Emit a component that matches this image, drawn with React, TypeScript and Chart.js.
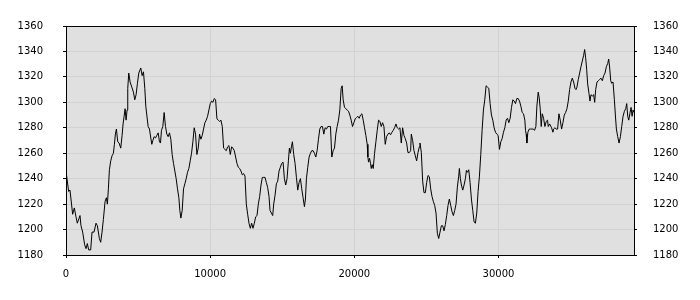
import { useEffect, useRef } from 'react';
import { Chart, registerables } from 'chart.js';

Chart.register(...registerables);

// Sample positions (x) and values (y)
const sampleX = [
  0, 183, 276, 461, 577, 693, 785, 971, 1040, 1156, 1295, 1388, 1480, 1573, 1712, 1805, 1944, 2083, 2176, 2315,
  2407, 2500, 2593, 2709, 2801, 2871, 2940, 3010, 3102, 3195, 3288, 3357, 3427, 3496, 3589, 3682, 3797, 3890, 3960, 4029,
  4099, 4168, 4238, 4284, 4353, 4446, 4562, 4678, 4770, 4863, 4956, 5049, 5188, 5280, 5373, 5466, 5535, 5605, 5697, 5790,
  5883, 5952, 6022, 6114, 6207, 6300, 6393, 6485, 6555,
  6623, 6716, 6808, 6901, 6994, 7086, 7179, 7272, 7364, 7457, 7550, 7642, 7735, 7828, 7897, 7967, 8060, 8152, 8245, 8338,
  8430, 8523, 8616, 8708, 8801, 8894, 8986, 9079, 9172, 9264, 9357, 9450, 9542, 9635, 9728, 9820, 9913, 10006, 10099, 10191,
  10284, 10377, 10469, 10562, 10655, 10747, 10840, 10933, 11025, 11118, 11211, 11303, 11396, 11489, 11581, 11674, 11767, 11859, 11952, 12045,
  12137, 12230, 12323, 12415, 12508, 12601, 12693, 12786, 12879, 12971, 13064,
  13156, 13249, 13341, 13434, 13527, 13619, 13712, 13805, 13897, 13990, 14083, 14152, 14245, 14338, 14407, 14500, 14593, 14685, 14778, 14871,
  14963, 15056, 15149, 15241, 15334, 15427, 15496, 15566, 15635, 15705, 15797, 15890, 15983, 16075, 16168, 16261, 16353, 16446, 16539, 16608,
  16678, 16770, 16863, 16956, 17048, 17141, 17234, 17326, 17419, 17512, 17604, 17697, 17790, 17882, 17975, 18068, 18160, 18253, 18346, 18438,
  18531, 18624, 18716, 18809, 18902, 18994, 19087, 19157, 19226, 19319, 19412, 19504, 19597,
  19689, 19782, 19874, 19967, 20060, 20152, 20245, 20338, 20430, 20523, 20616, 20708, 20801, 20894, 20940, 20987, 21056, 21126, 21172, 21242,
  21311, 21404, 21496, 21589, 21682, 21774, 21867, 21960, 22052, 22145, 22238, 22330, 22423, 22516, 22608, 22701, 22794, 22886, 22979, 23072,
  23164, 23257, 23350, 23442, 23535, 23628, 23720, 23813, 23906, 23952, 24045, 24138, 24230, 24323, 24416, 24508, 24555, 24648, 24740, 24833,
  24926, 25018, 25111, 25204, 25296, 25389, 25482, 25574, 25667, 25760, 25852, 25945, 26038, 26130,
  26222, 26315, 26407, 26500, 26593, 26685, 26778, 26871, 26963, 27056, 27149, 27241, 27288, 27357, 27427, 27520, 27612, 27705, 27774, 27844,
  27937, 28029, 28122, 28215, 28307, 28400, 28493, 28585, 28678, 28771, 28863, 28956, 29049, 29141, 29234, 29327, 29419, 29512, 29605, 29697,
  29790, 29883, 29975, 30068, 30161, 30253, 30346, 30439, 30531, 30624, 30717, 30809, 30902, 30995, 31087, 31180, 31273, 31365, 31458, 31551,
  31643, 31736, 31829, 31875, 31922, 31968, 32038, 32130, 32223, 32316, 32408, 32501, 32594,
  32663, 32756, 32826, 32895, 32965, 33034, 33127, 33219, 33312, 33405, 33451, 33544, 33683, 33776, 33822, 33915, 34007, 34100, 34193, 34285,
  34378, 34471, 34563, 34656, 34749, 34841, 34934, 35027, 35119, 35212, 35305, 35374, 35444, 35536, 35629, 35722, 35814, 35907, 35977, 36046,
  36116, 36185, 36278, 36347, 36417, 36510, 36602, 36672, 36741, 36834, 36927, 37019, 37112, 37205, 37297, 37390, 37483, 37575, 37645, 37714,
  37784, 37853, 37946, 38039, 38108, 38178, 38270, 38363, 38456, 38548, 38641, 38734, 38826, 38896, 38965, 39035, 39128, 39197, 39267, 39336,
  39400,
];

const priceY = [
  1246, 1230, 1231, 1212, 1217, 1210, 1205, 1211, 1203, 1198, 1188, 1185, 1189, 1184, 1184, 1198, 1198, 1205, 1203, 1193,
  1190, 1198, 1208, 1222, 1225, 1220, 1232, 1247, 1254, 1258, 1260, 1267, 1275, 1279, 1269, 1268, 1264, 1274, 1283, 1289,
  1295, 1286, 1294, 1311, 1323, 1316, 1312, 1308, 1302, 1306, 1315, 1323, 1327, 1321, 1324, 1311, 1297, 1290, 1281, 1279,
  1272, 1267, 1270, 1273, 1272, 1274, 1276, 1269, 1268,
  1278, 1281, 1292, 1281, 1275, 1273, 1276, 1271, 1259, 1252, 1246, 1240, 1232, 1225, 1215, 1209, 1215, 1232, 1236, 1240,
  1245, 1248, 1254, 1260, 1269, 1280, 1275, 1259, 1264, 1275, 1271, 1274, 1279, 1284, 1286, 1289, 1294, 1299, 1301, 1300,
  1303, 1302, 1287, 1286, 1285, 1286, 1281, 1264, 1263, 1262, 1265, 1266, 1259, 1265, 1264, 1262, 1257, 1252, 1249, 1248,
  1246, 1243, 1244, 1242, 1220, 1212, 1205, 1201, 1205, 1201, 1205,
  1210, 1211, 1220, 1226, 1235, 1241, 1241, 1241, 1237, 1233, 1226, 1215, 1213, 1211, 1220, 1227, 1236, 1238, 1246, 1249,
  1252, 1253, 1240, 1235, 1240, 1254, 1264, 1260, 1265, 1269, 1259, 1252, 1241, 1231, 1237, 1240, 1232, 1225, 1218, 1224,
  1240, 1249, 1257, 1260, 1262, 1262, 1260, 1257, 1262, 1271, 1279, 1281, 1281, 1275, 1280, 1279, 1281, 1281, 1281, 1257,
  1262, 1264, 1275, 1281, 1286, 1294, 1311, 1313, 1302, 1296, 1295, 1294, 1293,
  1290, 1286, 1281, 1284, 1287, 1288, 1289, 1287.5, 1290, 1291, 1286, 1280, 1274, 1267, 1257, 1253, 1256, 1252, 1248, 1251,
  1248, 1260, 1269, 1278, 1286, 1285, 1281, 1284, 1281, 1267, 1273, 1275, 1276, 1274.5, 1276.5, 1278, 1280, 1283, 1280, 1279,
  1280, 1268, 1280, 1274, 1271.5, 1268, 1260.5, 1260.5, 1262, 1275, 1270, 1262, 1258, 1254, 1260.5, 1265, 1268, 1260.5, 1238, 1229,
  1229, 1237, 1242.5, 1241.5, 1232, 1226, 1222, 1219, 1213, 1197, 1193, 1198, 1203, 1203,
  1199, 1204, 1211, 1219, 1224, 1219, 1214, 1211, 1215, 1220, 1233.5, 1242, 1248, 1240, 1235, 1231, 1235, 1240, 1246.5, 1245,
  1247, 1237, 1224, 1215, 1206, 1205, 1213, 1230, 1242, 1259, 1278, 1294, 1302, 1313, 1312, 1311, 1299, 1290, 1286, 1280,
  1276.5, 1275, 1274, 1263, 1269, 1271.5, 1276.5, 1280, 1286, 1287.5, 1284, 1287.5, 1296, 1302, 1301, 1299, 1303, 1303, 1301, 1297,
  1292, 1291, 1286, 1278, 1275, 1268, 1276.5, 1279, 1279, 1279, 1279, 1278, 1281,
  1297, 1308, 1303.5, 1295, 1281, 1291, 1287.5, 1281, 1285, 1286, 1281, 1283, 1280, 1276.5, 1279, 1280, 1279, 1279, 1291, 1286,
  1279, 1284, 1290, 1292, 1295, 1301, 1310, 1316, 1319, 1316, 1311, 1310, 1312, 1318, 1323, 1328, 1332.5, 1337, 1341.5, 1335,
  1326, 1314.5, 1307, 1301, 1306, 1305, 1306, 1300, 1310, 1316, 1317, 1318, 1319, 1317, 1321, 1323, 1328, 1330.5, 1334, 1327,
  1317, 1315, 1316, 1302, 1290, 1279, 1273, 1268, 1273, 1281, 1289, 1293, 1295, 1299, 1289, 1286, 1292, 1296, 1289, 1294,
  1292,
];

const xTickValues = [0, 10000, 20000, 30000];
const xMin = 0;
const xMax = 39400;
const yMin = 1180;
const yMax = 1360;
const yStep = 20;

export default function App() {
  const canvasRef = useRef<HTMLCanvasElement | null>(null);

  useEffect(() => {
    const canvas = canvasRef.current;
    if (!canvas) return;

    const points = sampleX.map((x, i) => ({ x, y: priceY[i] }));

    const plotFrame = {
      id: 'plotFrame',
      beforeDraw(chart: any) {
        const { ctx, chartArea: a } = chart;
        ctx.save();
        ctx.fillStyle = '#e0e0e0';
        ctx.fillRect(a.left, a.top, a.right - a.left, a.bottom - a.top);
        ctx.restore();
      },
      afterDraw(chart: any) {
        const { ctx, chartArea: a } = chart;
        ctx.save();
        ctx.strokeStyle = '#000';
        ctx.lineWidth = 1;
        ctx.strokeRect(Math.round(a.left) + 0.5, Math.round(a.top) + 0.5, Math.round(a.right - a.left), Math.round(a.bottom - a.top));
        ctx.restore();
      },
    };

    const tickFont = { family: 'DejaVu Sans', size: 10 };
    const gridColor = '#d2d2d2';

    const chart = new Chart(canvas, {
      type: 'line',
      data: {
        datasets: [
          {
            data: points,
            borderColor: '#000',
            borderWidth: 1,
            pointRadius: 0,
            fill: false,
            tension: 0,
          },
        ],
      },
      options: {
        animation: false,
        responsive: false,
        maintainAspectRatio: false,
        layout: { padding: { top: 10, left: 0, right: 0, bottom: 0 } },
        plugins: { legend: { display: false }, tooltip: { enabled: false } },
        scales: {
          x: {
            type: 'linear',
            position: 'bottom',
            min: xMin,
            max: xMax,
            afterBuildTicks: (scale: any) => {
              scale.ticks = xTickValues.map((v) => ({ value: v }));
            },
            afterFit: (scale: any) => {
              scale.height = 45;
            },
            border: { display: false },
            grid: { color: gridColor, tickColor: '#000', tickLength: 3, drawTicks: true },
            ticks: {
              color: '#000',
              font: tickFont,
              padding: 10,
              maxRotation: 0,
              autoSkip: false,
              callback: (v: any) => String(v),
            },
          },
          y: {
            type: 'linear',
            position: 'left',
            min: yMin,
            max: yMax,
            afterFit: (scale: any) => {
              scale.width = 66;
            },
            border: { display: false },
            grid: { color: gridColor, tickColor: '#000', tickLength: 3 },
            ticks: {
              stepSize: yStep,
              color: '#000',
              font: tickFont,
              padding: 20,
              callback: (v: any) => String(v),
            },
          },
          y2: {
            type: 'linear',
            position: 'right',
            min: yMin,
            max: yMax,
            afterFit: (scale: any) => {
              scale.width = 66;
            },
            border: { display: false },
            grid: { drawOnChartArea: false, tickColor: '#000', tickLength: 3 },
            ticks: {
              stepSize: yStep,
              color: '#000',
              font: tickFont,
              padding: 16,
              callback: (v: any) => String(v),
            },
          },
        },
      },
      plugins: [plotFrame],
    } as any);

    return () => {
      chart.destroy();
    };
  }, []);

  return (
    <div style={{ position: 'fixed', left: 0, top: 0, width: 700, height: 300, background: '#fff' }}>
      <canvas ref={canvasRef} width={700} height={300} style={{ display: 'block', width: 700, height: 300 }} />
    </div>
  );
}
